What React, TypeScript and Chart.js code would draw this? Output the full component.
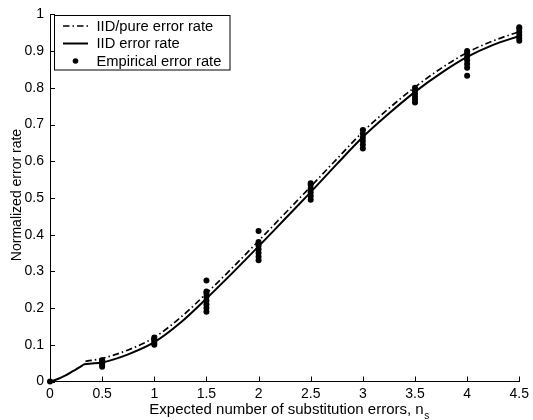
import React, { useEffect, useRef } from "react";
import { Chart, registerables } from "chart.js";

Chart.register(...registerables);

// ---- axis ticks ----
const xTicks = [0, 0.5, 1, 1.5, 2, 2.5, 3, 3.5, 4, 4.5];
const xTickLabels = ["0", "0.5", "1", "1.5", "2", "2.5", "3", "3.5", "4", "4.5"];
const yTicks = [0, 0.1, 0.2, 0.3, 0.4, 0.5, 0.6, 0.7, 0.8, 0.9, 1];
const yTickLabels = ["0", "0.1", "0.2", "0.3", "0.4", "0.5", "0.6", "0.7", "0.8", "0.9", "1"];

// ---- IID error rate (solid) ----
const iidX = [0, 0.05, 0.1, 0.16, 0.2, 0.25, 0.3, 0.33, 0.4, 0.5, 0.75, 1, 1.25, 1.5, 1.75, 2, 2.25, 2.5, 2.75, 3, 3.25, 3.5, 3.75, 4, 4.25, 4.5];
const iidY = [0, 0.004, 0.01, 0.018, 0.025, 0.033, 0.042, 0.047, 0.049, 0.052, 0.074, 0.107, 0.16, 0.226, 0.296, 0.368, 0.442, 0.516, 0.592, 0.666, 0.73, 0.789, 0.84, 0.884, 0.917, 0.941];

// ---- IID/pure error rate (dash-dot) ----
const pureX = [0.34, 0.5, 0.75, 1, 1.25, 1.5, 1.75, 2, 2.25, 2.5, 2.75, 3, 3.25, 3.5, 3.75, 4, 4.25, 4.5];
const pureY = [0.055, 0.063, 0.086, 0.12, 0.174, 0.24, 0.31, 0.383, 0.457, 0.531, 0.606, 0.68, 0.744, 0.802, 0.853, 0.896, 0.928, 0.953];

// ---- Empirical error rate (dots) ----
const empX = [0, 0.5, 1, 1.5, 2, 2.5, 3, 3.5, 4, 4.5];
const empY = [
  [0],
  [0.04, 0.045, 0.05, 0.055, 0.058],
  [0.1, 0.105, 0.11, 0.115, 0.12],
  [0.19, 0.2, 0.21, 0.22, 0.23, 0.24, 0.245, 0.275],
  [0.33, 0.34, 0.35, 0.36, 0.37, 0.38, 0.41],
  [0.495, 0.505, 0.515, 0.525, 0.535, 0.54],
  [0.635, 0.645, 0.655, 0.665, 0.675, 0.685],
  [0.76, 0.768, 0.776, 0.784, 0.792, 0.8],
  [0.833, 0.855, 0.865, 0.875, 0.885, 0.895, 0.9],
  [0.928, 0.936, 0.944, 0.952, 0.96, 0.965],
];

const legendLabels = ["IID/pure error rate", "IID error rate", "Empirical error rate"];
const xTitle = "Expected number of substitution errors, n";
const xTitleSub = "s";
const yTitle = "Normalized error rate";

const FONT = "Liberation Sans, Arial, Helvetica, sans-serif";
const DASHDOT = [6.5, 3, 1.5, 3];

const decor = {
  id: "decor",
  afterDatasetsDraw(chart: any) {
    const { ctx, chartArea: ca, scales } = chart;
    const x = scales.x;
    const y = scales.y;
    ctx.save();
    ctx.strokeStyle = "#000";
    ctx.lineWidth = 1;
    ctx.setLineDash([]);
    // inward ticks
    xTicks.forEach((v) => {
      const px = Math.round(x.getPixelForValue(v)) + 0.5;
      ctx.beginPath();
      ctx.moveTo(px, ca.bottom);
      ctx.lineTo(px, ca.bottom - 5);
      ctx.stroke();
    });
    yTicks.forEach((v) => {
      const py = Math.round(y.getPixelForValue(v)) + 0.5;
      ctx.beginPath();
      ctx.moveTo(ca.left, py);
      ctx.lineTo(ca.left + 5, py);
      ctx.stroke();
    });

    // legend
    const bx = 54.5, by = 15.5, bw = 175.5, bh = 54.5;
    ctx.fillStyle = "#fff";
    ctx.fillRect(bx, by, bw, bh);
    ctx.strokeRect(bx, by, bw, bh);
    const rows = [26, 43.5, 61];
    const sx0 = 63, sx1 = 88, tx = 96.5;
    // row 1: dash-dot
    ctx.lineWidth = 1.7;
    ctx.setLineDash(DASHDOT);
    ctx.beginPath();
    ctx.moveTo(sx0, rows[0]);
    ctx.lineTo(sx1, rows[0]);
    ctx.stroke();
    // row 2: solid
    ctx.setLineDash([]);
    ctx.lineWidth = 2;
    ctx.beginPath();
    ctx.moveTo(sx0, rows[1]);
    ctx.lineTo(sx1, rows[1]);
    ctx.stroke();
    // row 3: dot
    ctx.fillStyle = "#000";
    ctx.beginPath();
    ctx.arc((sx0 + sx1) / 2, rows[2], 2.8, 0, Math.PI * 2);
    ctx.fill();
    ctx.font = `14.7px ${FONT}`;
    ctx.textAlign = "left";
    ctx.textBaseline = "middle";
    legendLabels.forEach((t, i) => ctx.fillText(t, tx, rows[i] + 0.5));

    // x title with subscript
    ctx.font = `15px ${FONT}`;
    const mainW = ctx.measureText(xTitle).width;
    ctx.font = `10px ${FONT}`;
    const subW = ctx.measureText(xTitleSub).width;
    const total = mainW + subW;
    const cx = 289;
    const startX = cx - total / 2;
    ctx.font = `15px ${FONT}`;
    ctx.fillText(xTitle, startX, 410);
    ctx.font = `10px ${FONT}`;
    ctx.fillText(xTitleSub, startX + mainW + 0.5, 416.5);

    // y title
    ctx.save();
    ctx.translate(17, 195);
    ctx.rotate(-Math.PI / 2);
    ctx.font = `14px ${FONT}`;
    ctx.textAlign = "center";
    ctx.fillText(yTitle, 0, 0);
    ctx.restore();

    ctx.restore();
  },
};

export default function App() {
  const ref = useRef<HTMLCanvasElement | null>(null);

  useEffect(() => {
    if (!ref.current) return;
    const empPoints: { x: number; y: number }[] = [];
    empX.forEach((xv, i) => empY[i].forEach((yv) => empPoints.push({ x: xv, y: yv })));

    const chart = new Chart(ref.current, {
      type: "line",
      data: {
        datasets: [
          {
            label: legendLabels[0],
            data: pureX.map((xv, i) => ({ x: xv, y: pureY[i] })),
            borderColor: "#000",
            borderWidth: 1.7,
            borderDash: DASHDOT,
            pointRadius: 0,
            cubicInterpolationMode: "monotone",
            fill: false,
            clip: false,
          },
          {
            label: legendLabels[1],
            data: iidX.map((xv, i) => ({ x: xv, y: iidY[i] })),
            borderColor: "#000",
            borderWidth: 2,
            pointRadius: 0,
            cubicInterpolationMode: "monotone",
            fill: false,
            clip: false,
          },
          {
            label: legendLabels[2],
            data: empPoints,
            showLine: false,
            pointRadius: 3,
            pointBackgroundColor: "#000",
            pointBorderColor: "#000",
            pointBorderWidth: 0,
            clip: false,
          },
        ],
      },
      options: {
        responsive: false,
        animation: false,
        events: [],
        layout: { padding: { top: 13.5, right: 10.5, left: 0, bottom: 0 } },
        plugins: { legend: { display: false }, tooltip: { enabled: false } },
        scales: {
          x: {
            type: "linear",
            min: 0,
            max: 4.5,
            afterBuildTicks: (s: any) => {
              s.ticks = xTicks.map((v) => ({ value: v }));
            },
            afterFit: (s: any) => {
              s.height = 38.5;
            },
            ticks: {
              autoSkip: false,
              maxRotation: 0,
              padding: 4,
              color: "#000",
              font: { family: FONT, size: 14 },
              callback: (_v: any, i: number) => xTickLabels[i],
            },
            grid: { display: false, drawTicks: false },
            border: { display: true, color: "#000", width: 1 },
          },
          y: {
            type: "linear",
            min: 0,
            max: 1,
            afterBuildTicks: (s: any) => {
              s.ticks = yTicks.map((v) => ({ value: v }));
            },
            afterFit: (s: any) => {
              s.width = 50;
            },
            ticks: {
              autoSkip: false,
              padding: 6,
              color: "#000",
              font: { family: FONT, size: 14 },
              callback: (_v: any, i: number) => yTickLabels[i],
            },
            grid: { display: false, drawTicks: false },
            border: { display: true, color: "#000", width: 1 },
          },
        },
      },
      plugins: [decor],
    });
    return () => chart.destroy();
  }, []);

  return (
    <div style={{ position: "absolute", left: 0, top: 0, width: 533, height: 420, background: "#fff" }}>
      <canvas ref={ref} width={533} height={420} style={{ display: "block" }} />
    </div>
  );
}
